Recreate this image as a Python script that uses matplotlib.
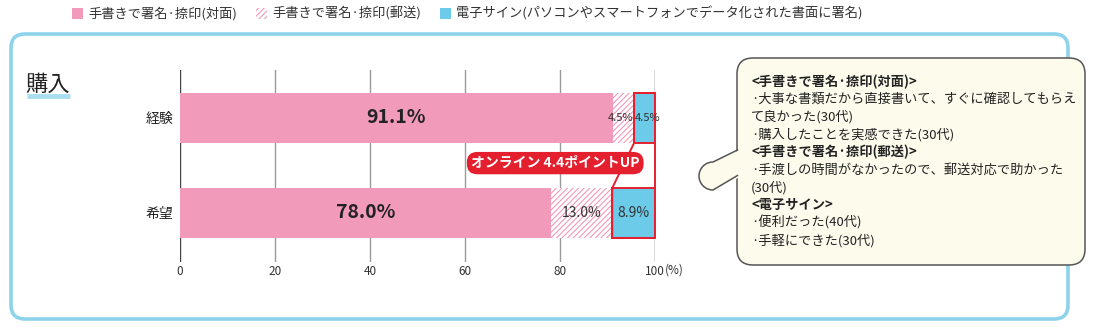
import numpy as np
import matplotlib
matplotlib.use("Agg")
import matplotlib.pyplot as plt
from matplotlib.patches import FancyBboxPatch, Rectangle, Polygon

plt.rcParams['font.family'] = ['Noto Sans CJK JP', 'DejaVu Sans']
plt.rcParams['hatch.linewidth'] = 0.8

# data
categories = ['経験', '希望']
face_to_face = [91.1, 78.0]
by_mail = [4.5, 13.0]
e_sign = [4.5, 8.9]
series_names = ['手書きで署名·捺印(対面)', '手書きで署名·捺印(郵送)',
                '電子サイン(パソコンやスマートフォンでデータ化された書面に署名)']
xticks = [0, 20, 40, 60, 80, 100]
uplift_label = 'オンライン 4.4ポイントUP'
comments = [
    ('<手書きで署名·捺印(対面)>', True),
    ('·大事な書類だから直接書いて、すぐに確認してもらえ', False),
    ('て良かった(30代)', False),
    ('·購入したことを実感できた(30代)', False),
    ('<手書きで署名·捺印(郵送)>', True),
    ('·手渡しの時間がなかったので、郵送対応で助かった', False),
    ('(30代)', False),
    ('<電子サイン>', True),
    ('·便利だった(40代)', False),
    ('·手軽にできた(30代)', False),
]

PINK = '#f29ab9'
BLUE = '#6ccbe8'
RED = '#e5202e'
FRAME = '#8dd3ec'
CREAM = '#fdfbec'
TXT = '#333333'

fig = plt.figure(figsize=(11, 3.27), dpi=100)

# pixel-space layer for the frame, legend, title and speech bubble
bg = fig.add_axes([0, 0, 1, 1])
bg.set_xlim(0, 1100)
bg.set_ylim(327, 0)
bg.axis('off')

bg.add_patch(FancyBboxPatch((11, 34), 1057, 285,
                            boxstyle='round,pad=0,rounding_size=14',
                            fc='white', ec=FRAME, lw=2.6, zorder=1))

# legend row
bg.add_patch(Rectangle((72, 8), 11, 11, fc=PINK, ec='none'))
bg.text(88, 13.5, series_names[0], fontsize=9.5, color=TXT, va='center')
bg.add_patch(Rectangle((256, 8), 11, 11, fc='white', ec=PINK, lw=0, hatch='//////'))
bg.text(272, 13.5, series_names[1], fontsize=9.5, color=TXT, va='center')
bg.add_patch(Rectangle((440, 8), 11, 11, fc=BLUE, ec='none'))
bg.text(456, 13.5, series_names[2], fontsize=9.5, color=TXT, va='center')

# section title with highlight underline
bg.plot([27, 70], [96, 96], color='#a9def0', lw=3.5, solid_capstyle='butt', zorder=2)
bg.text(25, 84, '購入', fontsize=16, color='#222222', va='center', zorder=3)

# speech bubble
bg.add_patch(FancyBboxPatch((737, 58), 348, 207,
                            boxstyle='round,pad=0,rounding_size=16',
                            fc=CREAM, ec='#555555', lw=1.1, zorder=5))
th = np.linspace(np.pi / 2, 3 * np.pi / 2, 20)
cx, cy, r = 713, 176, 14
arc = np.column_stack([cx + r * np.cos(th), cy - r * np.sin(th)])
tail = np.vstack([[[742, 149]], arc, [[742, 176]]])
bg.add_patch(Polygon(tail, closed=True, fc=CREAM, ec='none', zorder=6))
outline = np.vstack([[[737.5, 150]], arc, [[737.5, 175.5]]])
bg.plot(outline[:, 0], outline[:, 1], color='#555555', lw=1.1, zorder=7)

for i, (line, bold) in enumerate(comments):
    bg.text(751, 82 + i * 17.6, line, fontsize=9.5, color='#222222', va='center',
            fontweight='bold' if bold else 'normal', zorder=8)

# bar chart
ax = fig.add_axes([180 / 1100, 1 - 262 / 327, 475 / 1100, 192 / 327])
ax.patch.set_alpha(0)
y = np.arange(len(categories))
h = 0.526
left2 = np.array(face_to_face)
left3 = left2 + np.array(by_mail)

for t in xticks:
    ax.axvline(t, color='#444444' if t in (0, 100) else '#9a9a9a', lw=1, zorder=0)

ax.barh(y, face_to_face, height=h, color=PINK, lw=0, zorder=2)
ax.barh(y, by_mail, left=left2, height=h, color='white', edgecolor=PINK,
        lw=0, hatch='//////', zorder=2)
ax.barh(y, e_sign, left=left3, height=h, color=BLUE, edgecolor=RED, lw=1.4, zorder=3)

# red outline joining the two e-sign segments
top, bot = y[0] + h / 2, y[1] - h / 2
poly = [(left3[0], y[0] - h / 2), (100, y[0] - h / 2), (100, y[1] + h / 2),
        (left3[1], y[1] + h / 2), (left3[1], bot), (left3[0], top)]
ax.add_patch(Polygon(poly, closed=True, fc='none', ec=RED, lw=1.4, zorder=4,
                     clip_on=False))

# value labels
for i in range(len(categories)):
    ax.text(face_to_face[i] / 2, y[i], f'{face_to_face[i]:.1f}%', ha='center',
            va='center', fontsize=14, fontweight='bold', color='#222222', zorder=5)
ax.text(left2[0] + by_mail[0] / 2 - 0.6, y[0], f'{by_mail[0]:.1f}%', ha='center',
        va='center', fontsize=8, color=TXT, zorder=5)
ax.text(left3[0] + e_sign[0] / 2 + 0.5, y[0], f'{e_sign[0]:.1f}%', ha='center',
        va='center', fontsize=8, color=TXT, zorder=5)
ax.text(left2[1] + by_mail[1] / 2, y[1], f'{by_mail[1]:.1f}%', ha='center',
        va='center', fontsize=10, color=TXT, zorder=5)
ax.text(left3[1] + e_sign[1] / 2, y[1], f'{e_sign[1]:.1f}%', ha='center',
        va='center', fontsize=10, color=TXT, zorder=5)

ax.text(79, 0.475, uplift_label, ha='center', va='center', fontsize=10,
        fontweight='bold', color='white', zorder=6,
        bbox=dict(boxstyle='round,pad=0.3,rounding_size=0.75', fc=RED, ec='none'))

ax.set_xlim(0, 100)
ax.set_ylim(1.516, -0.505)
ax.set_yticks(y)
ax.set_yticklabels(categories, fontsize=10, color='#222222')
ax.set_xticks(xticks)
ax.set_xticklabels([str(t) for t in xticks], fontsize=8.5, color=TXT)
ax.tick_params(axis='y', length=0, pad=5)
ax.tick_params(axis='x', length=0, pad=2)
ax.text(102.0, -0.0105, '(%)', transform=ax.get_xaxis_transform(), fontsize=8.5,
        color=TXT, va='top')
for s in ax.spines.values():
    s.set_visible(False)

fig.savefig('out.png', dpi=100)
